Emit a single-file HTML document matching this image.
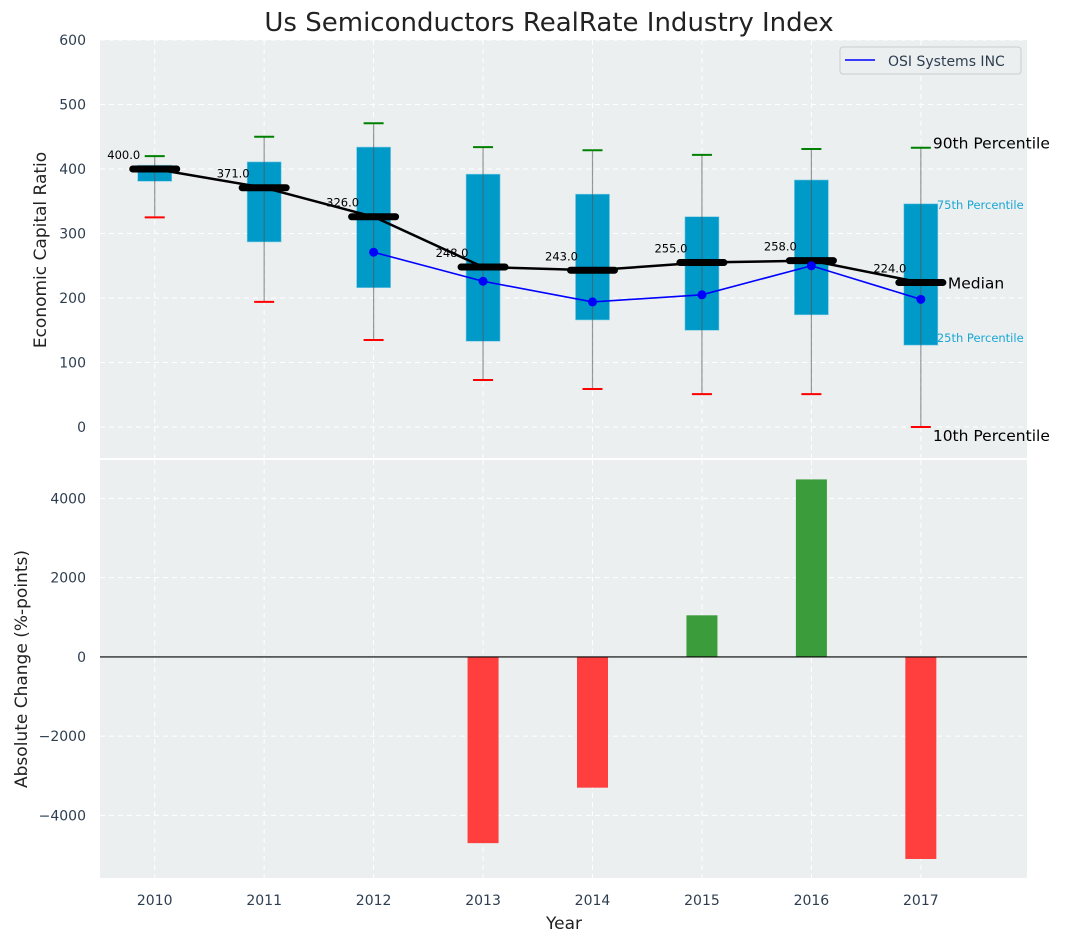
<!DOCTYPE html>
<html><head><meta charset="utf-8"><style>
body{margin:0;background:#fff;font-family:"DejaVu Sans","Liberation Sans",sans-serif;}
svg text{font-family:"DejaVu Sans","Liberation Sans",sans-serif;}
</style></head><body>
<svg id="chart" width="1067" height="942" xmlns="http://www.w3.org/2000/svg"></svg>
<script>
const years=[2010,2011,2012,2013,2014,2015,2016,2017];
const p90=[420,450,471,434,429,422,431,433];
const p75=[406,411,434,392,361,326,383,346];
const medians=[400,371,326,248,243,255,258,224];
const p25=[381,287,216,133,166,150,174,127];
const p10=[325,194,135,73,59,51,51,0];
const osi=[null,null,271,226,194,205,250,198];
const changes=[0,0,0,-4700,-3300,1050,4480,-5100];
const topTicks=[0,100,200,300,400,500,600];
const botTicks=[-4000,-2000,0,2000,4000];

const NS="http://www.w3.org/2000/svg";
const svg=document.getElementById('chart');
const L=100,R=1027,T1=40,B1=458,T2=460,B2=878;
const xMin=2009.5,xMax=2017.97;
const X=v=>L+(v-xMin)/(xMax-xMin)*(R-L);
const yTopMin=-48,yTopMax=600;
const Y1=v=>B1-(v-yTopMin)/(yTopMax-yTopMin)*(B1-T1);
const yBotMin=-5580,yBotMax=4970;
const Y2=v=>B2-(v-yBotMin)/(yBotMax-yBotMin)*(B2-T2);
function el(tag,attrs,parent){const e=document.createElementNS(NS,tag);for(const k in attrs)e.setAttribute(k,attrs[k]);(parent||svg).appendChild(e);return e;}
function txt(s,attrs,name){const e=el('text',attrs);e.textContent=s;


return e;}

const bg1=el('rect',{x:L,y:T1,width:R-L,height:B1-T1,fill:'#ebeff0'});


const bg2=el('rect',{x:L,y:T2,width:R-L,height:B2-T2,fill:'#ebeff0'});



years.forEach(yr=>{
  el('line',{x1:X(yr),x2:X(yr),y1:T1,y2:B1,stroke:'#fff','stroke-dasharray':'5,4','stroke-width':1});
  el('line',{x1:X(yr),x2:X(yr),y1:T2,y2:B2,stroke:'#fff','stroke-dasharray':'5,4','stroke-width':1});
  txt(String(yr),{x:X(yr),y:905,'text-anchor':'middle','font-size':14,fill:'#2e3e50'},'x-tick-label');
});
topTicks.forEach(t=>{
  el('line',{x1:L,x2:R,y1:Y1(t),y2:Y1(t),stroke:'#fff','stroke-dasharray':'5,4','stroke-width':1});
  txt(String(t),{x:86,y:Y1(t)+5,'text-anchor':'end','font-size':14,fill:'#2e3e50'},'y-tick-label');
});
botTicks.forEach(t=>{
  el('line',{x1:L,x2:R,y1:Y2(t),y2:Y2(t),stroke:'#fff','stroke-dasharray':'5,4','stroke-width':1});
  txt(String(t).replace('-','\u2212'),{x:86,y:Y2(t)+5,'text-anchor':'end','font-size':14,fill:'#2e3e50'},'y-tick-label');
});

const bw=34;
years.forEach((yr,i)=>{
  const x=X(yr);
  const b=el('rect',{x:x-bw/2,y:Y1(p75[i]),width:bw,height:Y1(p25[i])-Y1(p75[i]),fill:'#009ac9',stroke:'#7fcbe3','stroke-width':0.6});
  
  
  el('line',{x1:x,x2:x,y1:Y1(p90[i]),y2:Y1(p10[i]),stroke:'#555','stroke-opacity':0.6,'stroke-width':1.2});
  const c1=el('line',{x1:x-10,x2:x+10,y1:Y1(p90[i]),y2:Y1(p90[i]),stroke:'green','stroke-width':2});
  
  
  const c2=el('line',{x1:x-10,x2:x+10,y1:Y1(p10[i]),y2:Y1(p10[i]),stroke:'red','stroke-width':2});
  
  
});
let pts=years.map((yr,i)=>X(yr)+','+Y1(medians[i])).join(' ');
const ml=el('polyline',{points:pts,fill:'none',stroke:'#000','stroke-width':2.5});


years.forEach((yr,i)=>{
  const m=el('line',{x1:X(yr)-22,x2:X(yr)+22,y1:Y1(medians[i]),y2:Y1(medians[i]),stroke:'#000','stroke-width':7,'stroke-linecap':'round'});
  
  
  txt(medians[i].toFixed(1),{x:X(yr)-31,y:Y1(medians[i])-10,'text-anchor':'middle','font-size':11.5,fill:'#000'},'median-value-label');
});
const oi=years.map((y,i)=>i).filter(i=>osi[i]!==null);
const ol=el('polyline',{points:oi.map(i=>X(years[i])+','+Y1(osi[i])).join(' '),fill:'none',stroke:'#0000ff','stroke-width':1.6});


oi.forEach(i=>{const c=el('circle',{cx:X(years[i]),cy:Y1(osi[i]),r:4.5,fill:'#0000ff'});

});

const lx=X(2017);
txt('90th Percentile',{x:lx+12,y:Y1(p90[7])+1,'font-size':15.5,fill:'#000'},'p90-annotation');
txt('75th Percentile',{x:lx+16,y:Y1(p75[7])+5,'font-size':11.5,fill:'#1aa7d6'},'p75-annotation');
txt('Median',{x:lx+27,y:Y1(medians[7])+6,'font-size':15.5,fill:'#000'},'median-annotation');
txt('25th Percentile',{x:lx+16,y:Y1(p25[7])-3,'font-size':11.5,fill:'#1aa7d6'},'p25-annotation');
txt('10th Percentile',{x:lx+12,y:Y1(p10[7])+14,'font-size':15.5,fill:'#000'},'p10-annotation');

const lg=el('g',{});


el('rect',{x:840,y:47,width:181,height:27,rx:3,fill:'#ebeff0',stroke:'#ccc'},lg);
el('line',{x1:845,x2:875,y1:60,y2:60,stroke:'#0000ff','stroke-width':1.6},lg);
const lt=el('text',{x:888,y:66,'font-size':14,fill:'#2e3e50'},lg);lt.textContent='OSI Systems INC';

const barW=31;
years.forEach((yr,i)=>{
  if(changes[i]===0)return;
  const y0=Y2(0),y=Y2(changes[i]);
  const r=el('rect',{x:X(yr)-barW/2,y:Math.min(y0,y),width:barW,height:Math.abs(y-y0),fill:changes[i]>0?'#3a9c3a':'#ff3e3e'});
  
  
});
el('line',{x1:L,x2:R,y1:Y2(0),y2:Y2(0),stroke:'#000','stroke-width':1.2});

txt('Us Semiconductors RealRate Industry Index',{x:549,y:31,'text-anchor':'middle','font-size':26,fill:'#222'},'chart-title');
txt('Year',{x:564,y:929,'text-anchor':'middle','font-size':17,fill:'#222'},'x-axis-title');
txt('Economic Capital Ratio',{x:0,y:0,'text-anchor':'middle','font-size':17,fill:'#222',transform:'translate(46,250) rotate(-90)'},'top-y-axis-title');
txt('Absolute Change (%-points)',{x:0,y:0,'text-anchor':'middle','font-size':17,fill:'#222',transform:'translate(27,669) rotate(-90)'},'bottom-y-axis-title');
</script>
</body></html>
